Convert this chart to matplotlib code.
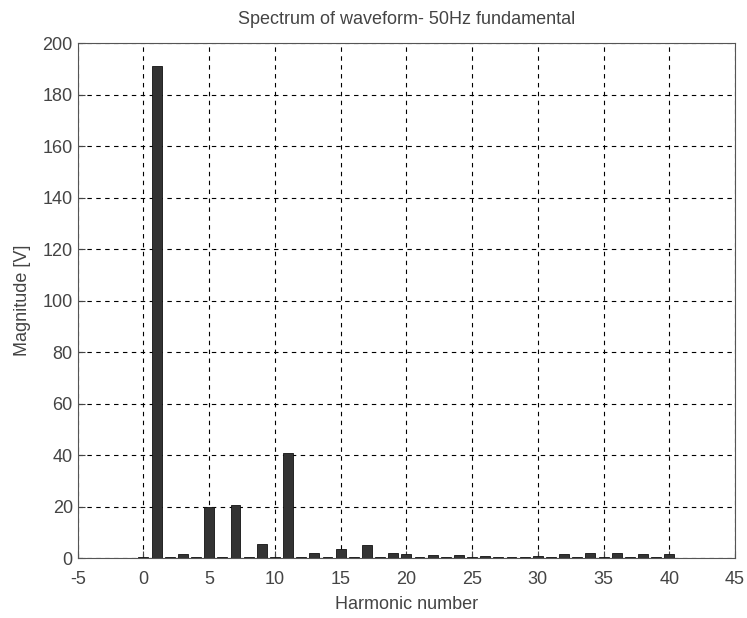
import numpy as np
import matplotlib
matplotlib.use("Agg")
import matplotlib.pyplot as plt

plt.rcParams['font.family'] = ['Liberation Sans', 'DejaVu Sans']
plt.rcParams['axes.unicode_minus'] = False

harmonics = list(range(0, 41))
magnitude = [0.5, 191, 0.5, 1.5, 0.5, 20, 0.5, 20.5, 0.5, 5.5,
             0.5, 41, 0.5, 2, 0.5, 3.5, 0.5, 5, 0.5, 2,
             1.5, 0.4, 1, 0.4, 1, 0.3, 0.8, 0.3, 0.5, 0.3,
             0.8, 0.3, 1.5, 0.3, 2, 0.3, 2, 0.3, 1.5, 0.3, 1.5]

fig = plt.figure(figsize=(7.47, 6.18), dpi=100)
ax = fig.add_axes([0.104, 0.097, 0.88, 0.833])

ax.bar(harmonics, magnitude, width=0.75, color="#333333", edgecolor="#111111", linewidth=0.6, zorder=3)

ax.set_xlim(-5, 45)
ax.set_ylim(0, 200)
ax.set_xticks(range(-5, 46, 5))
ax.set_yticks(range(0, 201, 20))
ax.grid(True, color="black", linestyle=(0, (4, 4)), linewidth=0.8, zorder=0)
ax.tick_params(direction="in", labelsize=13, colors="#444444", length=5)
ax.tick_params(axis="x", pad=9)
for s in ax.spines.values():
    s.set_color("#555555")

ax.set_title("Spectrum of waveform- 50Hz fundamental", fontsize=13, color="#444444", pad=14)
ax.set_xlabel("Harmonic number", fontsize=13, color="#444444", labelpad=6)
ax.set_ylabel("Magnitude [V]", fontsize=13, color="#444444", labelpad=8)

plt.savefig("out.png", dpi=100)
